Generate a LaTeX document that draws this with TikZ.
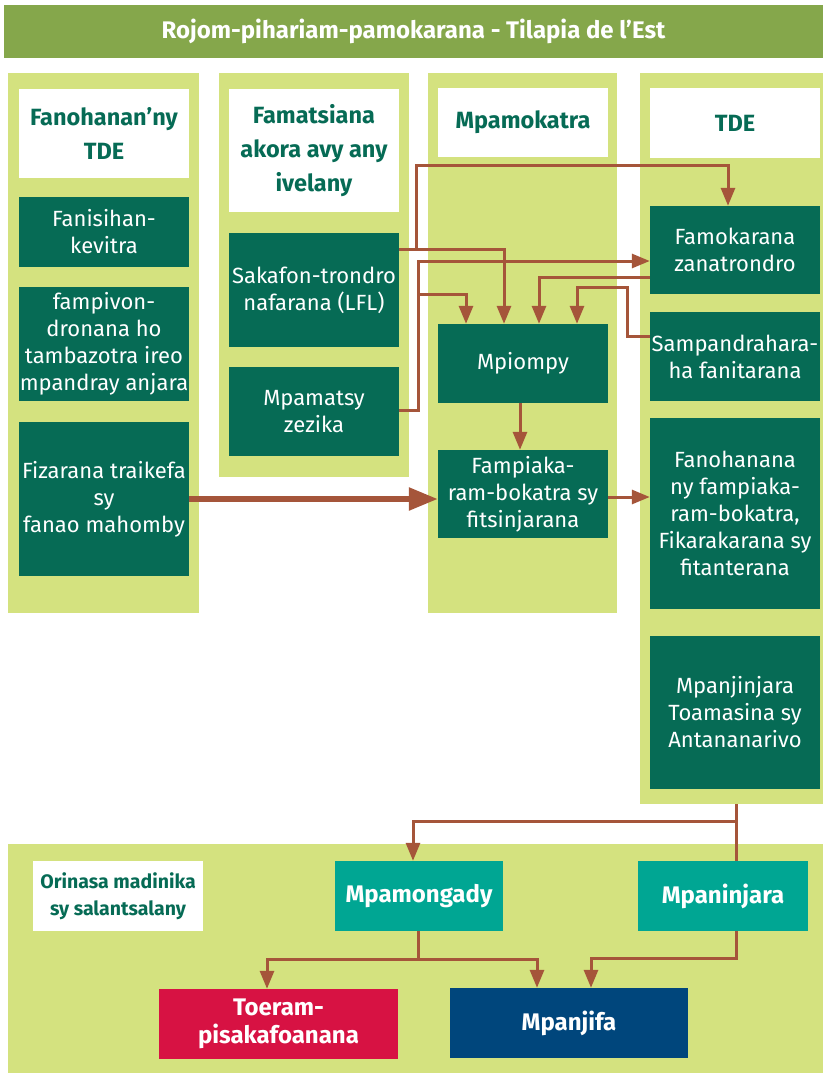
\documentclass[tikz,border=0pt]{standalone}
\usepackage{fontspec}
\setmainfont{Fira Sans}
\usetikzlibrary{arrows.meta,calc}
\definecolor{titlegreen}{HTML}{85A74B}
\definecolor{lightgreen}{HTML}{D4E27F}
\definecolor{darkgreen}{HTML}{066B55}
\definecolor{tealbox}{HTML}{00A693}
\definecolor{redbox}{HTML}{D71243}
\definecolor{navybox}{HTML}{00467C}
\definecolor{brownline}{HTML}{A5553A}
\tikzset{
  panel/.style={fill=lightgreen, draw=none, inner sep=0pt},
  hdr/.style={fill=white, text=darkgreen, font=\fontsize{23.5}{34}\selectfont\bfseries, align=center, inner sep=0pt, minimum width=170pt},
  dbox/.style={fill=darkgreen, text=white, font=\fontsize{22}{27}\selectfont, align=center, inner sep=0pt, minimum width=170pt},
  cbox/.style={text=white, font=\fontsize{24}{27.5}\selectfont\bfseries, align=center, inner sep=0pt},
  conn/.style={draw=brownline, line width=3pt, -{Triangle[length=18pt,width=14pt]}},
  plain/.style={draw=brownline, line width=3pt},
  thickconn/.style={draw=brownline, line width=5.5pt, -{Triangle[length=29pt,width=22pt]}},
}
\begin{document}
\begin{tikzpicture}[x=1pt,y=-1pt]
\useasboundingbox (0,0) rectangle (823,1074);
% title
\node[fill=titlegreen, text=white, font=\fontsize{24}{28}\selectfont\bfseries, minimum width=819pt, minimum height=53pt, inner sep=0pt] (title) at (413.5,31.5) {Rojom-pihariam-pamokarana - Tilapia de l’Est};
% panels
\node[panel, minimum width=191pt, minimum height=540pt] (col1) at (103.5,343) {};
\node[panel, minimum width=190pt, minimum height=404pt] (col2) at (314,275) {};
\node[panel, minimum width=189pt, minimum height=540pt] (col3) at (522.5,343) {};
\node[panel, minimum width=183pt, minimum height=731pt] (col4) at (731.5,438.5) {};
\node[panel, minimum width=815pt, minimum height=229pt] (bottom) at (415.5,958.5) {};
% column 1
\node[hdr, minimum height=89pt] (h1) at (104,133.5) {Fanohanan’ny\\TDE};
\node[dbox, minimum height=70pt] (fanisihan) at (104,232) {Fanisihan-\\kevitra};
\node[dbox, minimum height=114pt] (fampivon) at (104,344) {fampivon-\\dronana ho\\tambazotra ireo\\mpandray anjara};
\node[dbox, minimum height=154pt] (fizarana) at (104,499) {Fizarana traikefa\\sy\\fanao mahomby};
% column 2
\node[hdr, minimum height=123pt] (h2) at (314,150.5) {Famatsiana\\akora avy any\\ivelany};
\node[dbox, minimum height=114pt] (sakafon) at (314,290) {Sakafon-trondro\\nafarana (LFL)};
\node[dbox, minimum height=89pt] (mpamatsy) at (314,411.5) {Mpamatsy\\zezika};
% column 3
\node[hdr, minimum height=69pt] (h3) at (523,122.5) {Mpamokatra};
\node[dbox, minimum height=79pt] (mpiompy) at (523,363.5) {Mpiompy};
\node[dbox, minimum height=88pt] (fampiaka) at (523,494) {Fampiaka-\\ram-bokatra sy\\fitsinjarana};
% column 4
\node[hdr, minimum height=70pt] (h4) at (735,123) {TDE};
\node[dbox, minimum height=88pt] (famokarana) at (735,250) {Famokarana\\zanatrondro};
\node[dbox, minimum height=89pt] (sampandr) at (735,356.5) {Sampandrahara-\\ha fanitarana};
\node[dbox, minimum height=191pt] (fanohanana) at (735,513.5) {Fanohanana\\ny fampiaka-\\ram-bokatra,\\Fikarakarana sy\\fitanterana};
\node[dbox, minimum height=153pt] (mpanjinjara) at (735,712.5) {Mpanjinjara\\Toamasina sy\\Antananarivo};
% bottom
\node[hdr, font=\fontsize{19.5}{27}\selectfont\bfseries, minimum height=70pt] (orinasa) at (118,896) {Orinasa madinika\\sy salantsalany};
\node[cbox, fill=tealbox, minimum width=168pt, minimum height=70pt] (mpamongady) at (419,896) {Mpamongady};
\node[cbox, fill=tealbox, minimum width=170pt, minimum height=70pt] (mpaninjara) at (723,896) {Mpaninjara};
\node[cbox, fill=redbox, minimum width=239pt, minimum height=70pt] (toeram) at (278.5,1024) {Toeram-\\pisakafoanana};
\node[cbox, fill=navybox, minimum width=238pt, minimum height=70pt] (mpanjifa) at (569,1023) {Mpanjifa};
% junction coordinates
\coordinate (jA) at (416,249);
\coordinate (jC) at (418,294);
\coordinate (jJ) at (736,821);
\coordinate (jK) at (418,959);
% connectors
\draw[conn] (sakafon.east |- jA) -| (mpiompy.north -| 504,0);
\draw[conn] (jA) |- (728,165) -- (famokarana.north -| 728,0);
\draw[conn] (mpamatsy.east |- 0,410) -| (418,261) -- (famokarana.west |- 0,261);
\draw[conn] (jC) -| (mpiompy.north -| 466,0);
\draw[conn] (famokarana.west |- 0,277) -| (mpiompy.north -| 539,0);
\draw[conn] (sampandr.west |- 0,336) -| (627,287) -| (mpiompy.north -| 577,0);
\draw[conn] (mpiompy.south -| 520,0) -- (fampiaka.north -| 520,0);
\draw[thickconn] (fizarana.east |- 0,499) -- (fampiaka.west |- 0,499);
\draw[conn] (fampiaka.east |- 0,497) -- (fanohanana.west |- 0,497);
\draw[plain] (col4.south -| jJ) -- (jJ) -- (mpaninjara.north -| jJ);
\draw[conn] (jJ) -| (mpamongady.north -| 413,0);
\draw[plain] (mpamongady.south -| jK) -- (jK);
\draw[conn] (jK) -| (toeram.north -| 267,0);
\draw[conn] (jK) -| (mpanjifa.north -| 537,0);
\draw[conn] (mpaninjara.south -| 736,0) |- (591,958) -- (mpanjifa.north -| 591,0);
\end{tikzpicture}
\end{document}
